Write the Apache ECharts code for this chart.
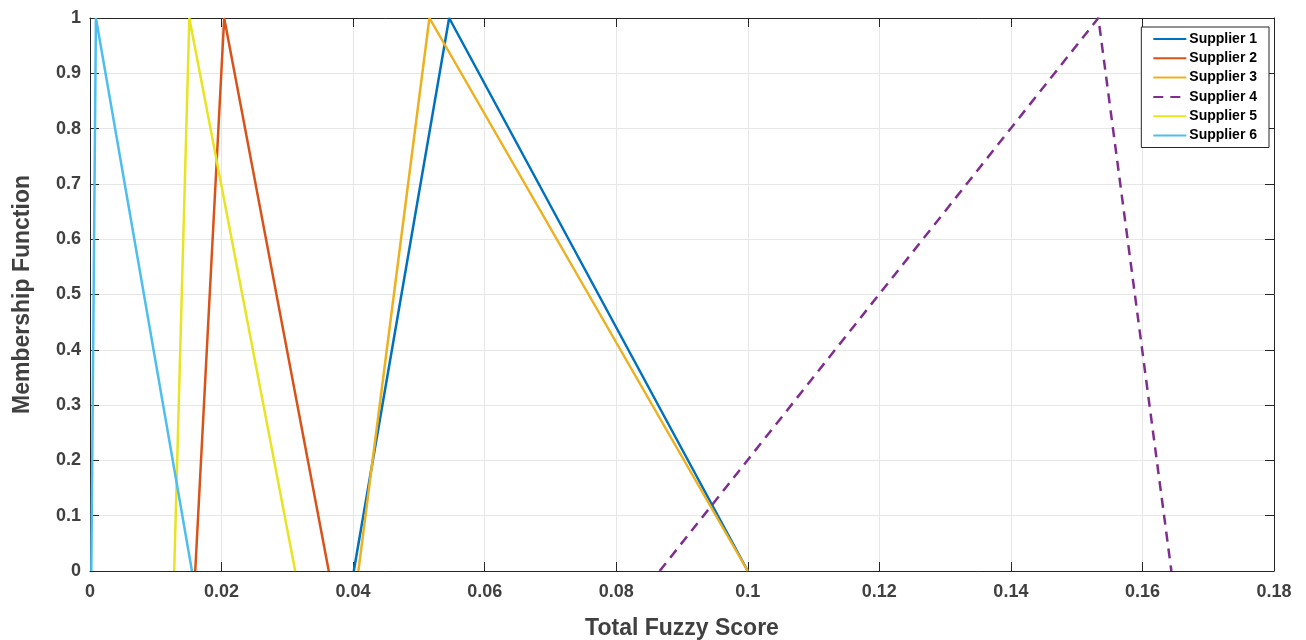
<!DOCTYPE html>
<html><head><meta charset="utf-8">
<script src="https://cdn.jsdelivr.net/npm/echarts@6/dist/echarts.min.js"></script>
<style>html,body{margin:0;padding:0;background:#fff}#c{width:1306px;height:640px}</style>
</head><body><div id="c"></div>
<script>
const seriesNames = ['Supplier 1','Supplier 2','Supplier 3','Supplier 4','Supplier 5','Supplier 6'];
const supplier1 = [[0.0401,0],[0.0546,1],[0.1,0]];
const supplier2 = [[0.0160,0],[0.0204,1],[0.0363,0]];
const supplier3 = [[0.0408,0],[0.0516,1],[0.1,0]];
const supplier4 = [[0.0866,0],[0.1533,1],[0.1644,0]];
const supplier5 = [[0.0128,0],[0.0151,1],[0.0312,0]];
const supplier6 = [[0.0002,0],[0.0009,1],[0.0155,0]];
const colors = ['#0072BD','#D95319','#EDB120','#7E2F8E','#E8E424','#4DBEEE'];
const xTicks = [0,0.02,0.04,0.06,0.08,0.1,0.12,0.14,0.16,0.18];
const yTicks = [0,0.1,0.2,0.3,0.4,0.5,0.6,0.7,0.8,0.9,1];

const allData = [supplier1,supplier2,supplier3,supplier4,supplier5,supplier6];
const fmt = v => String(+v.toFixed(2));
const FONT = 'Liberation Sans, Arial, sans-serif';
const labelStyle = {color:'#404040', fontSize:18, fontWeight:'bold', fontFamily:FONT};
const axisLineStyle = {show:true, onZero:false, lineStyle:{color:'#262626', width:1}};
const tickStyle = {show:true, inside:true, length:9, lineStyle:{color:'#262626'}};
const chart = echarts.init(document.getElementById('c'));
chart.setOption({
  animation:false,
  color: colors,
  grid:{left:90, right:32, top:18, bottom:69, containLabel:false, outerBoundsMode:'none'},
  legend:{
    orient:'vertical', right:37, top:27,
    itemWidth:33, itemHeight:14, itemGap:5.3,
    padding:[5,12,5,11],
    backgroundColor:'#fff', borderColor:'#262626', borderWidth:1,
    itemStyle:{opacity:0},
    textStyle:{color:'#000', fontSize:14, fontWeight:'bold', fontFamily:FONT, padding:[0,0,0,-2]},
    data: seriesNames
  },
  xAxis:[{
    type:'value', min:0, max:0.18, interval:0.02,
    name:'Total Fuzzy Score', nameLocation:'middle', nameGap:46,
    nameTextStyle:{color:'#404040', fontSize:23, fontWeight:'bold', fontFamily:FONT},
    axisLine:axisLineStyle, axisTick:tickStyle,
    axisLabel:Object.assign({formatter:fmt, margin:12}, labelStyle),
    splitLine:{show:true, lineStyle:{color:'#e6e6e6', width:1}}
  },{
    type:'value', position:'top', min:0, max:0.18, interval:0.02,
    axisLine:axisLineStyle, axisTick:tickStyle,
    axisLabel:{show:false}, splitLine:{show:false}
  }],
  yAxis:[{
    type:'value', min:0, max:1, interval:0.1,
    name:'Membership Function', nameLocation:'middle', nameGap:56,
    nameTextStyle:{color:'#404040', fontSize:23, fontWeight:'bold', fontFamily:FONT},
    axisLine:axisLineStyle, axisTick:tickStyle,
    axisLabel:Object.assign({formatter:fmt, margin:9}, labelStyle),
    splitLine:{show:true, lineStyle:{color:'#e6e6e6', width:1}}
  },{
    type:'value', position:'right', min:0, max:1, interval:0.1,
    axisLine:axisLineStyle, axisTick:tickStyle,
    axisLabel:{show:false}, splitLine:{show:false}
  }],
  series: allData.map((d,i)=>({
    name: seriesNames[i], type:'line', data:d, symbol:'none',
    lineStyle:{width:2.5, color:colors[i], type: i===3 ? [10,7] : 'solid'},
    itemStyle:{color:colors[i]}
  }))
});
</script></body></html>
